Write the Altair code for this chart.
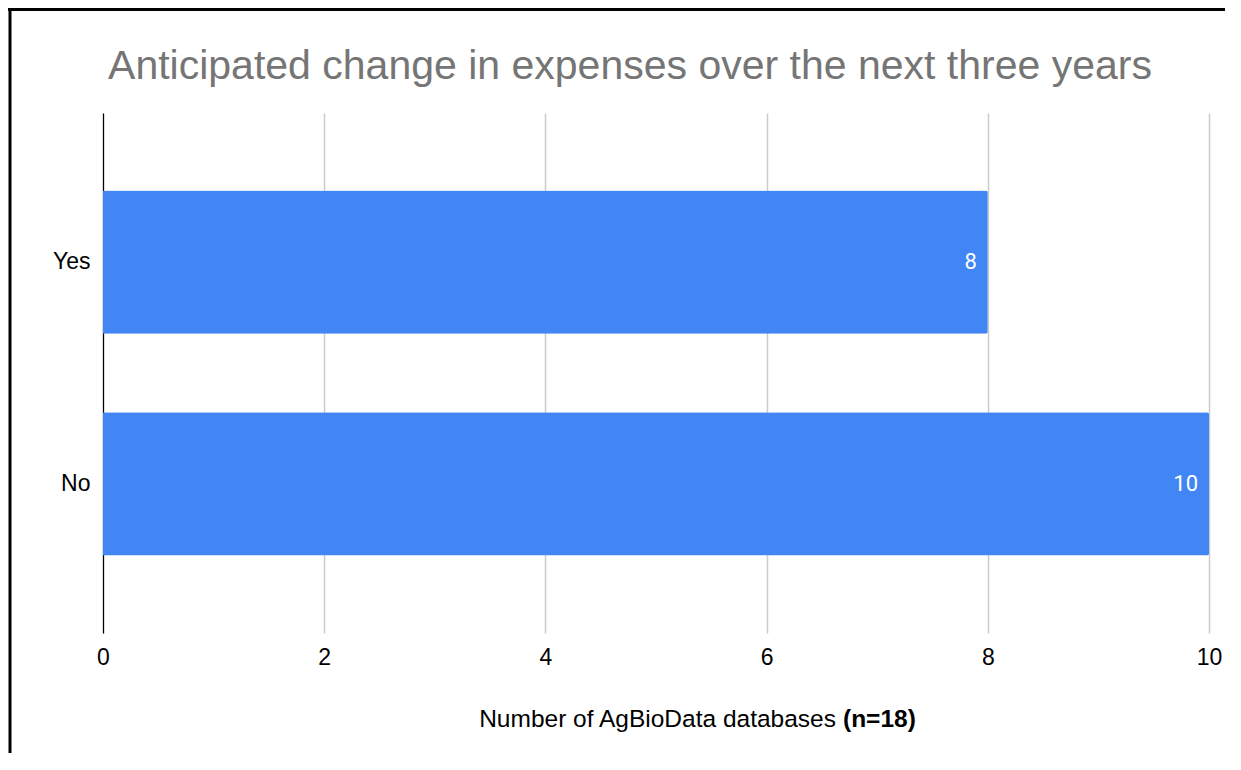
import altair as alt
import pandas as pd

categories = ["Yes", "No"]
counts = [8, 10]
title_text = "Anticipated change in expenses over the next three years"
x_ticks = [0, 2, 4, 6, 8, 10]
axis_title_regular = "Number of AgBioData databases"
axis_title_bold = "(n=18)"

df = pd.DataFrame({"answer": categories, "count": counts})
W, H = 1106, 520
FONT = "Liberation Sans"

base = alt.Chart(df)

bars = base.mark_bar(color="#4285F4", cornerRadiusEnd=2).encode(
    x=alt.X(
        "count:Q",
        scale=alt.Scale(domain=[0, 10], nice=False),
        axis=alt.Axis(values=x_ticks, format="d", title=None, grid=True, gridColor="#cccccc",
                      gridWidth=1.5, domain=False, ticks=False, labelFontSize=23,
                      labelColor="#000000", labelPadding=13, labelFont=FONT,
                      labelFlush=False),
    ),
    y=alt.Y(
        "answer:N",
        sort=categories,
        scale=alt.Scale(paddingInner=0.354, paddingOuter=0.35),
        axis=alt.Axis(title=None, domainColor="#000000", domainWidth=1.2, ticks=False,
                      labelFontSize=23, labelPadding=13, labelColor="#000000",
                      labelFont=FONT, grid=False),
    ),
)

labels = base.mark_text(align="right", baseline="middle", dx=-11, color="white",
                        fontSize=22, font="Roboto").encode(
    x="count:Q",
    y=alt.Y("answer:N", sort=categories),
    text="count:Q",
)

frame_df = pd.DataFrame({"k": [0]})
border_left = alt.Chart(frame_df).mark_rule(color="black", strokeWidth=3).encode(
    x=alt.value(-93), y=alt.value(-105), y2=alt.value(H + 300)
)
border_top = alt.Chart(frame_df).mark_rule(color="black", strokeWidth=3).encode(
    x=alt.value(-95), x2=alt.value(W + 300), y=alt.value(-103.5)
)

chart_title = alt.Chart(frame_df).mark_text(
    align="center", baseline="alphabetic", fontSize=41, font=FONT, color="#757575",
    text=title_text
).encode(x=alt.value(W / 2 - 26), y=alt.value(-34))

title_reg = alt.Chart(frame_df).mark_text(
    align="right", baseline="alphabetic", fontSize=24.5, font=FONT, color="#000000",
    text=axis_title_regular
).encode(x=alt.value(733), y=alt.value(614))

title_bold = alt.Chart(frame_df).mark_text(
    align="left", baseline="alphabetic", fontSize=24.5, font=FONT, fontWeight="bold",
    color="#000000", text=axis_title_bold
).encode(x=alt.value(740), y=alt.value(614))

chart = alt.layer(bars, labels, border_left, border_top, chart_title, title_reg,
                  title_bold).properties(
    width=W,
    height=H,
    autosize="none",
    padding={"left": 95, "top": 105, "right": 16, "bottom": 120},
).configure_view(stroke=None)

chart.save("out.html", embed_options={"renderer": "svg", "actions": False})
